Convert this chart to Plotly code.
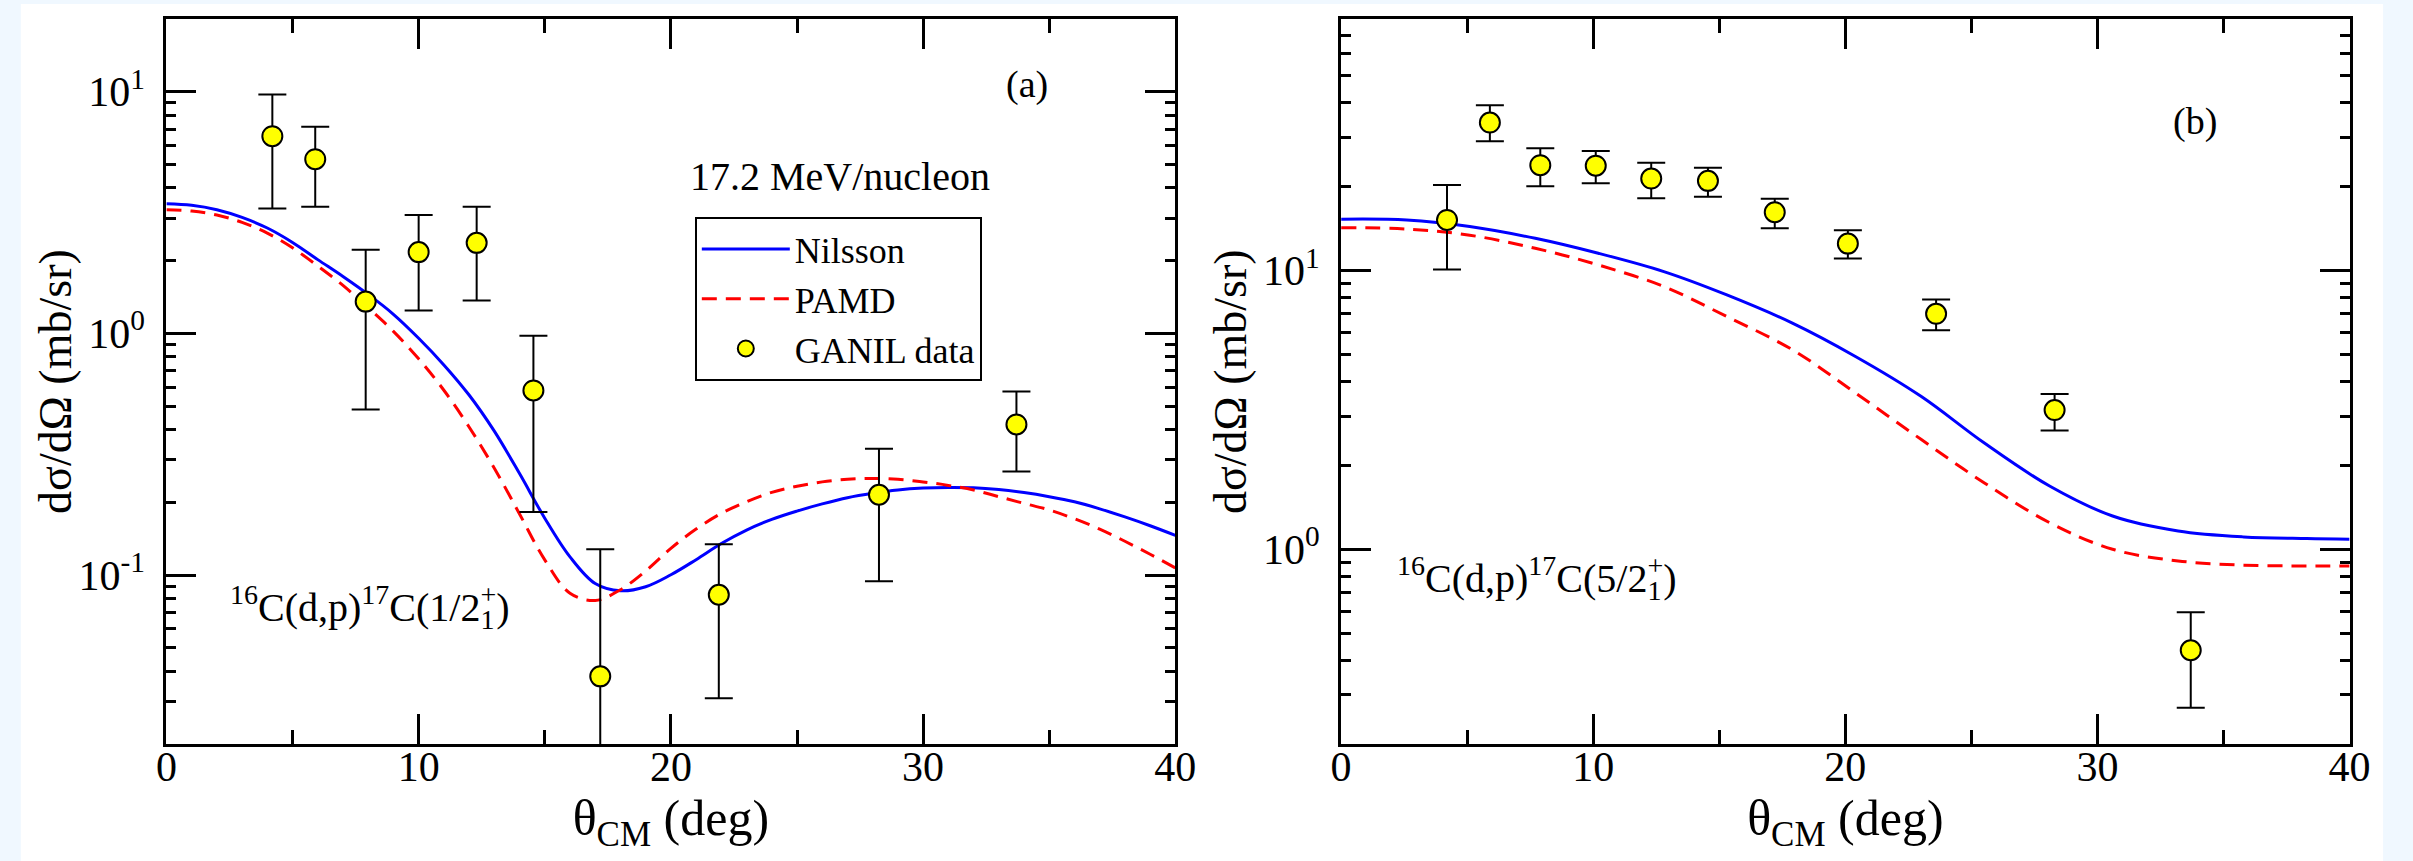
import math
import plotly.graph_objects as go

# ---------------- data ----------------
# Panel (a): 16C(d,p)17C(1/2+)
a_theory_x = [0, 1, 2, 3, 4, 5, 6, 7, 8, 9, 10, 11, 12, 13, 14, 15, 16, 17, 18, 19, 20,
              21, 22, 23, 24, 25, 26, 27, 28, 29, 30, 31, 32, 33, 34, 35, 36, 37, 38, 39, 40]
a_nilsson = [3.44, 3.39, 3.25, 3.02, 2.73, 2.38, 2.02, 1.72, 1.45, 1.20, 0.955, 0.741, 0.556,
             0.394, 0.263, 0.172, 0.119, 0.0923, 0.0861, 0.0895, 0.1003, 0.1158, 0.135, 0.1535,
             0.170, 0.184, 0.197, 0.209, 0.218, 0.225, 0.229, 0.2305, 0.2297, 0.2258, 0.2195,
             0.211, 0.201, 0.188, 0.174, 0.160, 0.146]
a_pamd = [3.25, 3.21, 3.09, 2.88, 2.60, 2.26, 1.90, 1.58, 1.276, 1.02, 0.785, 0.582, 0.41,
          0.277, 0.179, 0.1156, 0.0841, 0.0785, 0.087, 0.104, 0.129, 0.155, 0.180, 0.201, 0.220,
          0.233, 0.243, 0.249, 0.251, 0.249, 0.243, 0.235, 0.225, 0.211, 0.198, 0.186, 0.171,
          0.155, 0.138, 0.122, 0.107]
a_data_x = [4.2, 5.9, 7.9, 10.0, 12.3, 14.55, 17.2, 21.9, 28.25, 33.7]
a_data_y = [6.55, 5.26, 1.354, 2.17, 2.37, 0.581, 0.0381, 0.0829, 0.215, 0.420]
a_data_hi = [9.75, 7.17, 2.22, 3.09, 3.34, 0.979, 0.128, 0.134, 0.333, 0.575]
a_data_lo = [3.29, 3.34, 0.484, 1.245, 1.368, 0.1824, 0.005, 0.0309, 0.0944, 0.268]

# Panel (b): 16C(d,p)17C(5/2+)
b_theory_x = [0, 2.6, 5.1, 7.7, 10.2, 12.8, 15.3, 17.9, 20.4, 23.0, 25.5, 28.1, 30.6, 33.2,
              35.8, 38.3, 40]
b_nilsson = [15.3, 15.2, 14.4, 13.06, 11.54, 9.92, 8.18, 6.48, 4.92, 3.54, 2.41, 1.686, 1.316,
             1.163, 1.107, 1.092, 1.087]
b_pamd = [14.26, 14.1, 13.4, 12.03, 10.48, 8.77, 6.84, 5.2, 3.64, 2.48, 1.733, 1.246, 1.0,
          0.908, 0.877, 0.871, 0.871]
b_data_x = [4.2, 5.9, 7.9, 10.1, 12.3, 14.55, 17.2, 20.1, 23.6, 28.3, 33.7]
b_data_y = [15.2, 34.0, 23.9, 23.8, 21.4, 21.0, 16.2, 12.5, 7.0, 3.16, 0.434]
b_data_hi = [20.3, 39.2, 27.5, 26.9, 24.4, 23.4, 18.1, 13.97, 7.87, 3.61, 0.594]
b_data_lo = [10.09, 29.1, 20.1, 20.6, 18.2, 18.4, 14.2, 11.05, 6.11, 2.67, 0.270]

x_ticks = [0, 10, 20, 30, 40]
a_ytick_vals = [0.1, 1, 10]
a_ytick_text = ["10<sup>-1</sup>", "10<sup>0</sup>", "10<sup>1</sup>"]
b_ytick_vals = [1, 10]
b_ytick_text = ["10<sup>0</sup>", "10<sup>1</sup>"]

# ---------------- styling ----------------
FONT = "Liberation Serif"
BLUE = "#0000FF"
RED = "#FF0000"
YELLOW = "#FFFF00"


def minor_logs(lo, hi):
    vals = []
    e = math.floor(math.log10(lo))
    while 10 ** e <= hi:
        for m in range(2, 10):
            v = m * 10 ** e
            if lo <= v <= hi:
                vals.append(v)
        e += 1
    return vals


fig = go.Figure()


def add_panel(xa, ya, tx, nil, pam, dx, dy, dhi, dlo, legend):
    fig.add_trace(go.Scatter(x=tx, y=nil, mode="lines", name="Nilsson",
                             line=dict(color=BLUE, width=3, shape="spline"),
                             xaxis=xa, yaxis=ya, showlegend=legend))
    fig.add_trace(go.Scatter(x=tx, y=pam, mode="lines", name="PAMD",
                             line=dict(color=RED, width=3, dash="15px,9px", shape="spline"),
                             xaxis=xa, yaxis=ya, showlegend=legend))
    fig.add_trace(go.Scatter(
        x=dx, y=dy, mode="markers", name="GANIL data",
        marker=dict(color=YELLOW, size=20, line=dict(color="black", width=2)),
        error_y=dict(type="data", symmetric=False,
                     array=[h - y for h, y in zip(dhi, dy)],
                     arrayminus=[y - l for y, l in zip(dy, dlo)],
                     color="black", thickness=2, width=14),
        xaxis=xa, yaxis=ya, showlegend=legend))


add_panel("x", "y", a_theory_x, a_nilsson, a_pamd, a_data_x, a_data_y, a_data_hi, a_data_lo, True)
add_panel("x2", "y2", b_theory_x, b_nilsson, b_pamd, b_data_x, b_data_y, b_data_hi, b_data_lo, False)

W, H = 2413, 861
ybot, ytop = 744, 19
ydom = [(H - ybot) / H, (H - ytop) / H]
ymid = 1 - (ybot + ytop) / 2 / H

xaxis_common = dict(
    range=[0, 40], tickmode="array", tickvals=x_ticks, ticks="inside", ticklen=30,
    tickwidth=2.5, tickcolor="black", showline=True, linewidth=3, linecolor="black",
    mirror="allticks", showgrid=False, zeroline=False, ticklabelstandoff=-16,
    tickfont=dict(family=FONT, size=42, color="black"),
    minor=dict(tickmode="array", tickvals=[5, 15, 25, 35], ticks="inside", ticklen=14,
               tickwidth=2.5, tickcolor="black", showgrid=False),
    title=dict(text="θ<sub>CM</sub> (deg)", font=dict(family=FONT, size=50, color="black"),
               standoff=4),
)


def yaxis_common(lo, hi, tv, tt):
    return dict(
        type="log", range=[math.log10(lo), math.log10(hi)], tickmode="array",
        tickvals=tv, ticktext=tt, ticks="inside", ticklen=30, tickwidth=2.5,
        tickcolor="black", showline=True, linewidth=3, linecolor="black",
        mirror="allticks", showgrid=False, zeroline=False, ticklabelstandoff=10,
        tickfont=dict(family=FONT, size=42, color="black"),
        minor=dict(tickmode="array", tickvals=minor_logs(lo, hi), ticks="inside",
                   ticklen=10, tickwidth=2.5, tickcolor="black", showgrid=False),
        domain=ydom,
    )


sub_plus = "<sub><span style='letter-spacing:-14px'>1</span></sub><sup>+</sup>"
ytitle = "dσ/dΩ (mb/sr)"

fig.update_layout(
    width=W, height=H, autosize=False,
    margin=dict(l=0, r=0, t=0, b=0),
    paper_bgcolor="#F0F8FF", plot_bgcolor="white",
    font=dict(family=FONT, color="black"),
    xaxis=dict(xaxis_common, domain=[157.5 / W, 1180 / W], anchor="y"),
    xaxis2=dict(xaxis_common, domain=[1348 / W, 2370 / W], anchor="y2"),
    yaxis=dict(yaxis_common(0.02, 20, a_ytick_vals, a_ytick_text), anchor="x"),
    yaxis2=dict(yaxis_common(0.2, 80, b_ytick_vals, b_ytick_text), anchor="x2"),
    legend=dict(x=693 / W, y=1 - 217 / H, xanchor="left", yanchor="top",
                bgcolor="white", bordercolor="black", borderwidth=2,
                font=dict(family=FONT, size=36, color="black"), itemwidth=88,
                tracegroupgap=0),
    shapes=[dict(type="rect", xref="paper", yref="paper", x0=10 / W, x1=2404 / W,
                 y0=0, y1=1 - 4 / H, fillcolor="white", line=dict(width=0), layer="below")],
    annotations=[
        dict(text=ytitle, xref="paper", yref="paper", x=45 / W, y=ymid, textangle=-90,
             xanchor="center", yanchor="middle", showarrow=False,
             font=dict(family=FONT, size=46)),
        dict(text=ytitle, xref="paper", yref="paper", x=1236 / W, y=ymid, textangle=-90,
             xanchor="center", yanchor="middle", showarrow=False,
             font=dict(family=FONT, size=46)),
        dict(text="(a)", xref="x domain", yref="y domain", x=0.853, y=0.909,
             xanchor="center", yanchor="middle",
             showarrow=False, font=dict(family=FONT, size=38)),
        dict(text="17.2 MeV/nucleon", xref="x domain", yref="y domain", x=0.668, y=0.783,
             xanchor="center", yanchor="middle",
             showarrow=False, font=dict(family=FONT, size=40)),
        dict(text="<sup>16</sup>C(d,p)<sup>17</sup>C(1/2" + sub_plus + ")",
             xref="x domain", yref="y domain", x=0.061, y=0.192, xanchor="left",
             yanchor="middle", showarrow=False, font=dict(family=FONT, size=40)),
        dict(text="(b)", xref="x2 domain", yref="y2 domain", x=0.847, y=0.859,
             xanchor="center", yanchor="middle",
             showarrow=False, font=dict(family=FONT, size=38)),
        dict(text="<sup>16</sup>C(d,p)<sup>17</sup>C(5/2" + sub_plus + ")",
             xref="x2 domain", yref="y2 domain", x=0.053, y=0.232, xanchor="left",
             yanchor="middle", showarrow=False, font=dict(family=FONT, size=40)),
    ],
)

fig.write_html("out.html", config={"displayModeBar": False},
               post_script="document.body.style.margin='0';document.body.style.overflow='hidden';")
